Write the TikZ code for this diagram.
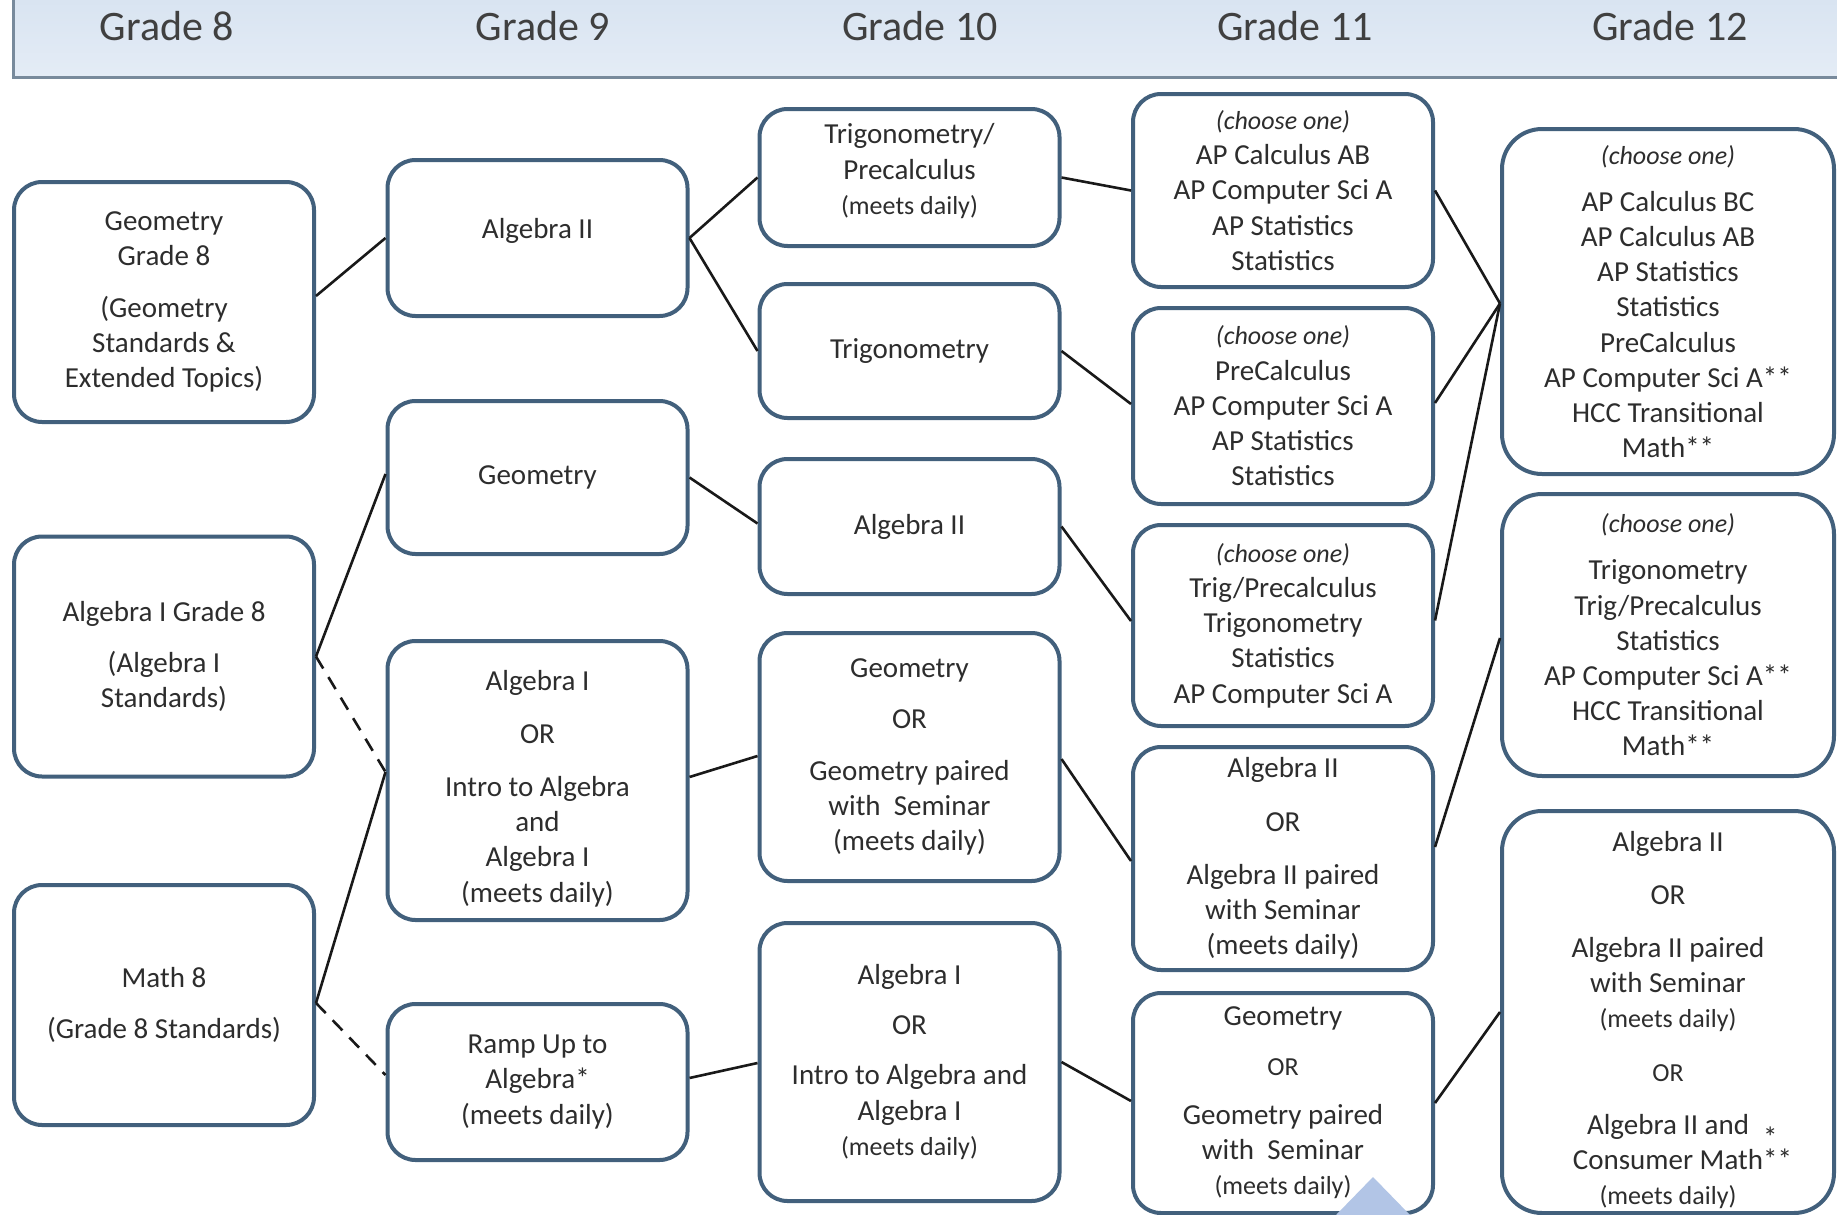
\documentclass[tikz,border=0pt]{standalone}
\usepackage{fontspec}
\setmainfont{Carlito}
\usetikzlibrary{calc}
\definecolor{boxc}{RGB}{66,96,124}
\definecolor{txtc}{RGB}{45,45,45}
\definecolor{hdrtop}{RGB}{214,226,240}
\definecolor{hdrbot}{RGB}{228,236,246}
\definecolor{hdrline}{RGB}{120,138,156}
\definecolor{tricol}{RGB}{178,197,230}
\newcommand{\smtxt}[1]{{\fontsize{13pt}{15.6pt}\selectfont #1}}
\newcommand{\chooseone}{{\fontsize{13pt}{15.6pt}\selectfont\itshape (choose one)}}
\tikzset{
  box/.style={draw=boxc, line width=2pt, fill=white, rounded corners=14pt, align=center,
    inner sep=0pt, text=txtc, font=\fontsize{14.5pt}{17.6pt}\selectfont},
  bigbox/.style={box, rounded corners=20pt},
  link/.style={draw=black!90, line width=1.3pt},
  dlink/.style={link, dash pattern=on 7pt off 5pt},
  hdr/.style={font=\fontsize{21pt}{25pt}\selectfont, text=black!75, inner sep=0pt}
}
\begin{document}
\begin{tikzpicture}[x=0.5pt,y=-0.5pt]
\useasboundingbox (0,0) rectangle (1837,1215);
% header band
\shade[top color=hdrtop, bottom color=hdrbot] (13,-20) rectangle (1860,77);
\draw[hdrline, line width=1.5pt] (13,-20) -- (13,77) -- (1860,77);
\node[hdr] (h8) at (167,26) {Grade 8};
\node[hdr] (h9) at (543,26) {Grade 9};
\node[hdr] (h10) at (920,26) {Grade 10};
\node[hdr] (h11) at (1295,26) {Grade 11};
\node[hdr] (h12) at (1670,26) {Grade 12};

% column 1 (Grade 8)
\node[box, minimum width=150pt, minimum height=120pt] (g8geo) at (164,302)
  {Geometry\\Grade 8\\[8pt](Geometry\\Standards \&\\Extended Topics)};
\node[box, minimum width=150pt, minimum height=120pt] (g8alg) at (164,656.5)
  {Algebra I Grade 8\\[8pt](Algebra I\\Standards)};
\node[box, minimum width=150pt, minimum height=120pt] (math8) at (164,1005)
  {Math 8\\[7.5pt](Grade 8 Standards)};

% column 2 (Grade 9)
\node[box, minimum width=150pt, minimum height=78pt] (alg2a) at (537.5,238)
  {\smash{Algebra II}};
\node[box, minimum width=150pt, minimum height=76.5pt] (geo9) at (537.5,477.5)
  {Geometry};
\node[box, minimum width=150pt, minimum height=139.5pt] (alg1) at (537.5,780.5)
  {\rule{0pt}{18pt}Algebra I\\[9pt]OR\\[9pt]Intro to Algebra\\and\\Algebra I\\(meets daily)};
\node[box, minimum width=150pt, minimum height=78pt] (ramp) at (537.5,1082)
  {Ramp Up to\\Algebra*\\(meets daily)};

% column 3 (Grade 10)
\node[box, minimum width=150pt, minimum height=68.5pt] (trigpre) at (909.5,177.5)
  {Trigonometry/\\Precalculus\\\smtxt{(meets daily)}\rule[-8.5pt]{0pt}{8.5pt}};
\node[box, minimum width=150pt, minimum height=67pt] (trig) at (909.5,351)
  {Trigonometry};
\node[box, minimum width=150pt, minimum height=67.5pt] (alg2b) at (909.5,526.5)
  {Algebra II};
\node[box, minimum width=150pt, minimum height=124pt] (geo10) at (909.5,757)
  {Geometry\\[8pt]OR\\[8pt]Geometry paired\\with\ \ Seminar\\(meets daily)};
\node[box, minimum width=150pt, minimum height=139pt] (alg1b) at (909.5,1062)
  {Algebra I\\[7.5pt]OR\\[7.5pt]Intro to Algebra and\\Algebra I\\\smtxt{(meets daily)}};

% column 4 (Grade 11)
\node[box, minimum width=150pt, minimum height=96.5pt] (c4a) at (1283,190.5)
  {\chooseone\\AP Calculus AB\\AP Computer Sci A\\AP Statistics\\Statistics};
\node[box, minimum width=150pt, minimum height=98pt] (c4b) at (1283,406)
  {\chooseone\\PreCalculus\\AP Computer Sci A\\AP Statistics\\Statistics};
\node[box, minimum width=150pt, minimum height=100.5pt] (c4c) at (1283,625.5)
  {\chooseone\\Trig/Precalculus\\Trigonometry\\Statistics\\AP Computer Sci A};
\node[box, minimum width=150pt, minimum height=111.5pt] (c4d) at (1283,858.5)
  {Algebra II\\[9pt]OR\\[9pt]Algebra II paired\\with Seminar\\(meets daily)};
\node[box, minimum width=150pt, minimum height=110pt] (c4e) at (1283,1103)
  {Geometry\\[7pt]\smtxt{OR}\\[7pt]Geometry paired\\with\ \ Seminar\\\smtxt{(meets daily)}};

% column 5 (Grade 12)
\node[bigbox, minimum width=166pt, minimum height=172.5pt] (c5a) at (1668,301.5)
  {\chooseone\\[6pt]AP Calculus BC\\AP Calculus AB\\AP Statistics\\Statistics\\PreCalculus\\AP Computer Sci A**\\HCC Transitional\\Math**};
\node[bigbox, minimum width=166pt, minimum height=141pt] (c5b) at (1668,635)
  {\chooseone\\[6pt]Trigonometry\\Trig/Precalculus\\Statistics\\AP Computer Sci A**\\HCC Transitional\\Math**};
\node[bigbox, minimum width=166pt, minimum height=201pt] (c5c) at (1668,1012)
  {\rule{0pt}{18pt}Algebra II\\[9pt]OR\\[9pt]Algebra II paired\\with Seminar\\\smtxt{(meets daily)}\\[9pt]\smtxt{OR}\\[9pt]Algebra II and\\Consumer Math\rlap{\smash{\raisebox{0.75em}{*}}}\rlap{**}\\\smtxt{(meets daily)}};

% connectors
\draw[link] ($(g8geo.east)+(0,-6)$) -- (alg2a.west);
\draw[link] (alg2a.east) -- (trigpre.west);
\draw[link] (alg2a.east) -- (trig.west);
\draw[link] (trigpre.east) -- (c4a.west);
\draw[link] (trig.east) -- ($(c4b.west)+(0,-2)$);
\draw[link] (geo9.east) -- ($(alg2b.west)+(0,-3)$);
\draw[link] (alg2b.east) -- ($(c4c.west)+(0,-4.5)$);
\draw[link] ($(geo10.east)+(0,2)$) -- ($(c4d.west)+(0,2.5)$);
\draw[link] (alg1b.east) -- ($(c4e.west)+(0,-2)$);
\draw[link] (c4a.east) -- ($(c5a.west)+(0,2)$);
\draw[link] ($(c4b.east)+(0,-3)$) -- ($(c5a.west)+(0,2)$);
\draw[link] ($(c4c.east)+(0,-5)$) -- ($(c5a.west)+(0,2)$);
\draw[link] ($(c4d.east)+(0,-11.5)$) -- ($(c5b.west)+(0,3)$);
\draw[link] (c4e.east) -- (c5c.west);
\draw[link] (g8alg.east) -- ($(geo9.west)+(0,-3.5)$);
\draw[dlink] (g8alg.east) -- ($(alg1.west)+(0,-8.5)$);
\draw[link] ($(math8.east)+(0,-2)$) -- ($(alg1.west)+(0,-8.5)$);
\draw[dlink] ($(math8.east)+(0,-2)$) -- ($(ramp.west)+(0,-7)$);
\draw[link] ($(alg1.east)+(0,-3.5)$) -- ($(geo10.west)+(0,-1)$);
\draw[link] ($(ramp.east)+(0,-4)$) -- ($(alg1b.west)+(0,1)$);

% light blue triangle at the bottom
\fill[tricol] (1336,1215) -- (1373,1177) -- (1410,1215) -- cycle;
\end{tikzpicture}
\end{document}
